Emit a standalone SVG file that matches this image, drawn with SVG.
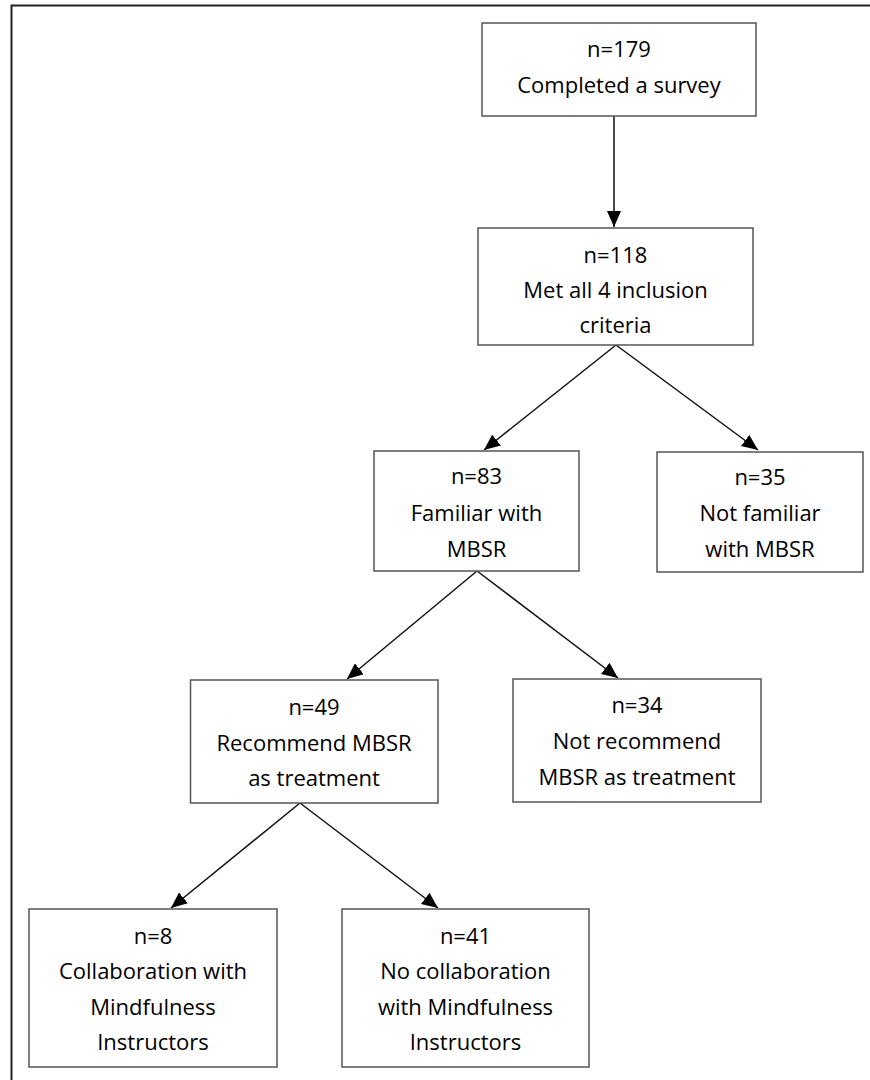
<svg xmlns="http://www.w3.org/2000/svg" width="870" height="1080" viewBox="0 0 870 1080">
<style>
.box{fill:#fff;stroke:#555;stroke-width:1.5}
.lbl{font-family:"Open Sans","Liberation Sans",sans-serif;font-size:22px;fill:#000;text-anchor:middle}
.edge{stroke:#111;stroke-width:1.5;fill:none;marker-end:url(#ah)}
</style>
<defs>
<marker id="ah" viewBox="0 0 16 14" refX="16" refY="7" markerWidth="16" markerHeight="14" markerUnits="userSpaceOnUse" orient="auto">
<path d="M0,0 L16,7 L0,14 Z" fill="#000"/>
</marker>
</defs>
<rect width="870" height="1080" fill="#fff"/>
<path d="M11.5,1080 V5.5 H870" fill="none" stroke="#222" stroke-width="2"/>
<g id="connectors">
<line class="edge" x1="614" y1="116" x2="614" y2="227"/>
<line class="edge" x1="616" y1="345" x2="484" y2="450"/>
<line class="edge" x1="616" y1="345" x2="758" y2="450"/>
<line class="edge" x1="477" y1="571" x2="347" y2="679"/>
<line class="edge" x1="477" y1="571" x2="618" y2="678"/>
<line class="edge" x1="300" y1="803" x2="171" y2="908"/>
<line class="edge" x1="300" y1="803" x2="438" y2="908"/>
</g>
<g id="n179">
<rect class="box" x="482" y="23" width="274" height="93"/>
<text class="lbl" x="619" y="57">n=179</text>
<text class="lbl" x="619" y="93">Completed a survey</text>
</g>
<g id="n118">
<rect class="box" x="478" y="228" width="275" height="117"/>
<text class="lbl" x="615.5" y="263">n=118</text>
<text class="lbl" x="615.5" y="298">Met all 4 inclusion</text>
<text class="lbl" x="615.5" y="333">criteria</text>
</g>
<g id="n83">
<rect class="box" x="374" y="451" width="205" height="120"/>
<text class="lbl" x="476.5" y="484">n=83</text>
<text class="lbl" x="476.5" y="521">Familiar with</text>
<text class="lbl" x="476.5" y="557">MBSR</text>
</g>
<g id="n35">
<rect class="box" x="657" y="452" width="206" height="120"/>
<text class="lbl" x="760" y="485">n=35</text>
<text class="lbl" x="760" y="521">Not familiar</text>
<text class="lbl" x="760" y="557">with MBSR</text>
</g>
<g id="n49">
<rect class="box" x="190.5" y="680" width="247.5" height="123"/>
<text class="lbl" x="314" y="715">n=49</text>
<text class="lbl" x="314" y="751">Recommend MBSR</text>
<text class="lbl" x="314" y="786">as treatment</text>
</g>
<g id="n34">
<rect class="box" x="513" y="679" width="248" height="123"/>
<text class="lbl" x="637" y="713">n=34</text>
<text class="lbl" x="637" y="749">Not recommend</text>
<text class="lbl" x="637" y="785">MBSR as treatment</text>
</g>
<g id="n8">
<rect class="box" x="29" y="909" width="248" height="158"/>
<text class="lbl" x="153" y="944">n=8</text>
<text class="lbl" x="153" y="979">Collaboration with</text>
<text class="lbl" x="153" y="1015">Mindfulness</text>
<text class="lbl" x="153" y="1050">Instructors</text>
</g>
<g id="n41">
<rect class="box" x="342" y="909" width="247" height="158"/>
<text class="lbl" x="465.5" y="944">n=41</text>
<text class="lbl" x="465.5" y="979">No collaboration</text>
<text class="lbl" x="465.5" y="1015">with Mindfulness</text>
<text class="lbl" x="465.5" y="1050">Instructors</text>
</g>
</svg>
